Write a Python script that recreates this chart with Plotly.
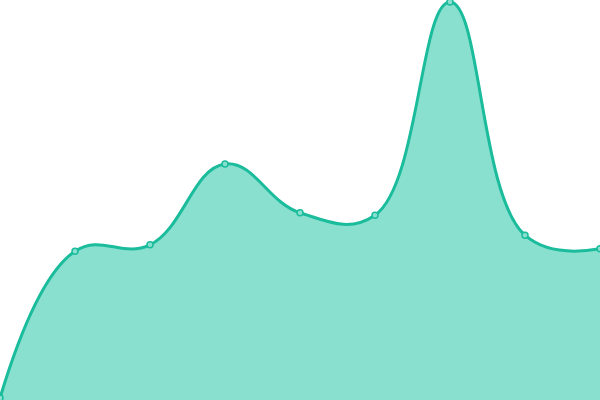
import plotly.graph_objects as go

# point positions and values
x_vals = [0, 1, 2, 3, 4, 5, 6, 7, 8]
y_vals = [0.5, 37.2, 38.8, 59.0, 46.8, 46.2, 99.5, 41.2, 37.8]

fig = go.Figure()

fig.add_trace(go.Scatter(
    x=x_vals, y=y_vals,
    mode='lines+markers',
    line=dict(color='#1abc9c', width=3, shape='spline', smoothing=1.2),
    fill='tozeroy',
    fillcolor='#8ae0cf',
    marker=dict(size=6, color='#8ae0cf', line=dict(color='#1abc9c', width=1.5)),
    hoverinfo='skip',
))

fig.update_layout(
    width=600, height=400,
    margin=dict(l=0, r=0, t=0, b=0),
    paper_bgcolor='white', plot_bgcolor='white',
    showlegend=False,
    xaxis=dict(range=[0, 8], visible=False),
    yaxis=dict(range=[0, 100], visible=False),
)

# drop the browser's default page margin so the chart sits flush
fig.write_html("out.html", config={'displayModeBar': False},
               post_script="document.body.style.margin='0';")
